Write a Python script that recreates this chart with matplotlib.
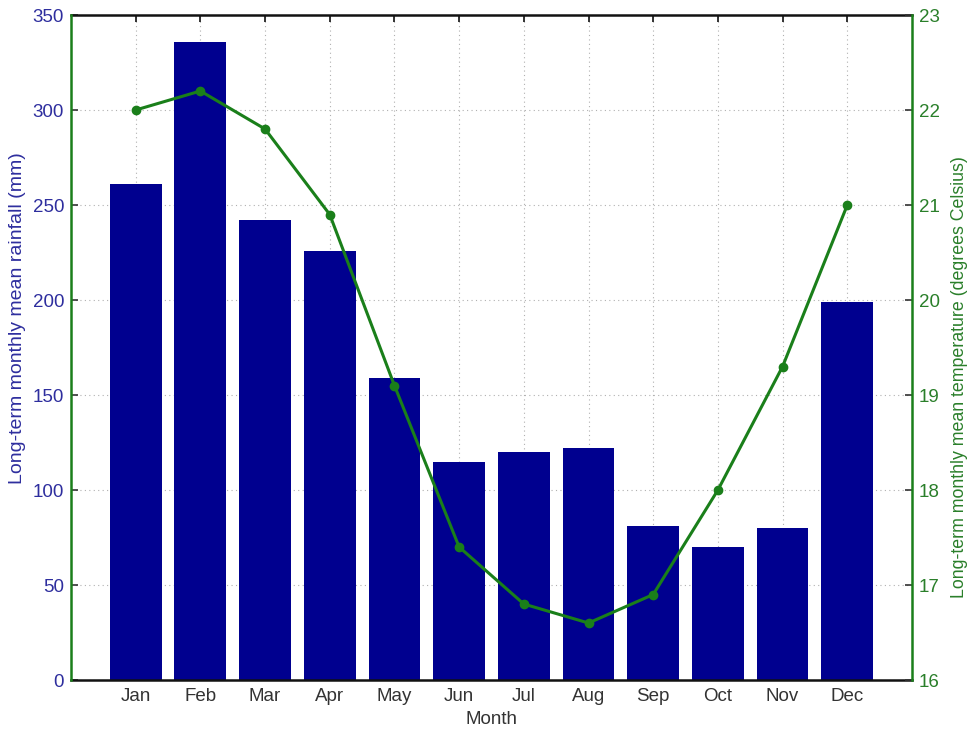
import numpy as np
import matplotlib.pyplot as plt

plt.rcParams['font.family'] = ['Liberation Sans', 'DejaVu Sans']

# Long-term monthly means
months = ['Jan', 'Feb', 'Mar', 'Apr', 'May', 'Jun',
          'Jul', 'Aug', 'Sep', 'Oct', 'Nov', 'Dec']
rainfall = [261, 336, 242, 226, 159, 115, 120, 122, 81, 70, 80, 199]
temperature = [22.0, 22.2, 21.8, 20.9, 19.1, 17.4, 16.8, 16.6, 16.9, 18.0, 19.3, 21.0]

bar_col = '#00008f'
line_col = '#1a7f1a'
left_col = '#2e2e9e'
right_col = '#2a7f2a'

x = np.arange(1, len(months) + 1)

fig = plt.figure(figsize=(9.67, 7.32), dpi=100)
ax = fig.add_axes([0.0734, 0.071, 0.8697, 0.9085])
ax.bar(x, rainfall, width=0.8, color=bar_col, zorder=2)
ax.set_xlim(0, 13)
ax.set_ylim(0, 350)
ax.set_yticks(np.arange(0, 351, 50))
ax.set_xticks(x)
ax.set_xticklabels(months)
ax.grid(True, linestyle=(0, (1, 3)), color='#b0b0b0', linewidth=0.8, zorder=0)
ax.set_axisbelow(True)
ax.tick_params(axis='y', direction='in', colors='#333333', labelcolor=left_col,
               labelsize=13.5, length=5, width=1.2, pad=5)
ax.tick_params(axis='x', direction='in', colors='#111111', labelcolor='#333333',
               labelsize=13.5, length=5, width=1.2, top=True, pad=6)
ax.set_ylabel('Long-term monthly mean rainfall (mm)', color=left_col, fontsize=14)
ax.yaxis.set_label_coords(-0.053, 0.544)
ax.set_xlabel('Month', color='#333333', fontsize=13.5, labelpad=4)
for s in ['top', 'bottom']:
    ax.spines[s].set_linewidth(1.8)
    ax.spines[s].set_color('#111111')

ax2 = ax.twinx()
ax2.plot(x, temperature, color=line_col, linewidth=2.2, marker='o', markersize=6)
ax2.set_ylim(16, 23)
ax2.set_yticks(np.arange(16, 24, 1))
ax2.tick_params(axis='y', direction='in', colors='#333333', labelcolor=right_col,
                labelsize=13.5, length=5, width=1.2, pad=5)
ax2.set_ylabel('Long-term monthly mean temperature (degrees Celsius)', color=right_col,
               fontsize=12.8)
ax2.yaxis.set_label_coords(1.046, 0.456)
ax2.spines['left'].set_color(line_col)
ax2.spines['right'].set_color(line_col)
ax2.spines['left'].set_linewidth(1.8)
ax2.spines['right'].set_linewidth(1.8)
ax2.spines['top'].set_visible(False)
ax2.spines['bottom'].set_visible(False)
ax.spines['left'].set_visible(False)
ax.spines['right'].set_visible(False)

fig.savefig('out.png', dpi=100)
